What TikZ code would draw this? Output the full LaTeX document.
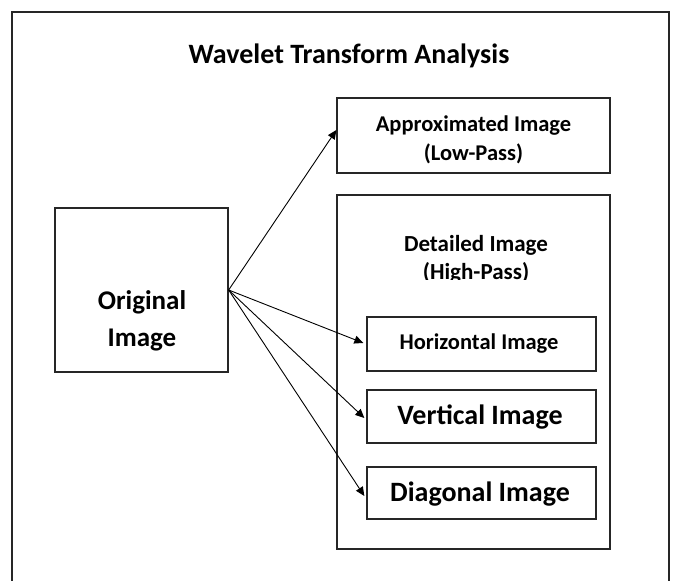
\documentclass[tikz,border=0pt]{standalone}
\usepackage{fontspec}
\setmainfont{Carlito}
\usetikzlibrary{arrows.meta}
\tikzset{
  box/.style={draw=black!85, line width=1.3pt, rectangle, inner sep=0pt},
  arr/.style={draw=black, line width=0.9pt, -{Triangle[length=9pt,width=8pt]}},
  lbl/.style={font=\bfseries, align=center, inner sep=0pt},
}
\begin{document}
\begin{tikzpicture}[x=1pt,y=-1pt]
\useasboundingbox (0,0) rectangle (675,581);
\fill[white] (0,0) rectangle (675,581);
% outer frame
\draw[black!85, line width=2.2pt] (12,581) -- (12,12) -- (669,12) -- (669,581);
% title
\node[lbl, font=\bfseries\fontsize{28}{32}\selectfont] (title) at (349,56) {Wavelet Transform Analysis};
% boxes
\node[box, minimum width=173pt, minimum height=164pt] (orig) at (141.5,290) {};
\node[box, minimum width=273pt, minimum height=75pt] (approx) at (473.5,135.5) {};
\node[box, minimum width=273pt, minimum height=354pt] (detail) at (473.5,372) {};
\node[box, minimum width=229pt, minimum height=54pt] (horiz) at (481.5,344) {};
\node[box, minimum width=229pt, minimum height=53pt] (vert) at (481.5,416.5) {};
\node[box, minimum width=229pt, minimum height=52pt] (diag) at (481.5,493) {};
% texts
\node[lbl, font=\bfseries\fontsize{27}{37}\selectfont] (origt) at (142,320.5) {Original\\Image};
\node[lbl, font=\bfseries\fontsize{22.5}{29}\selectfont] (approxt) at (473.5,140) {Approximated Image\\(Low-Pass)};
\begin{scope}
\clip (337,195) rectangle (610,279);
\node[lbl, font=\bfseries\fontsize{23}{28}\selectfont] (detailt) at (476,259) {Detailed Image\\(High-Pass)};
\end{scope}
\node[lbl, font=\bfseries\fontsize{22.5}{26}\selectfont] (horizt) at (479,344) {Horizontal Image};
\node[lbl, font=\bfseries\fontsize{28}{32}\selectfont] (vertt) at (480,417) {Vertical Image};
\node[lbl, font=\bfseries\fontsize{28}{32}\selectfont] (diagt) at (480,494) {Diagonal Image};
% arrows
\coordinate (src) at (orig.east);
\draw[arr] (src) -- ([yshift=5.5pt]approx.west);
\draw[arr] (src) -- ([xshift=-3pt,yshift=1pt]horiz.west);
\draw[arr] (src) -- ([xshift=-2pt,yshift=-1.5pt]vert.west);
\draw[arr] (src) -- ([xshift=-2pt,yshift=-3pt]diag.west);
\end{tikzpicture}
\end{document}
